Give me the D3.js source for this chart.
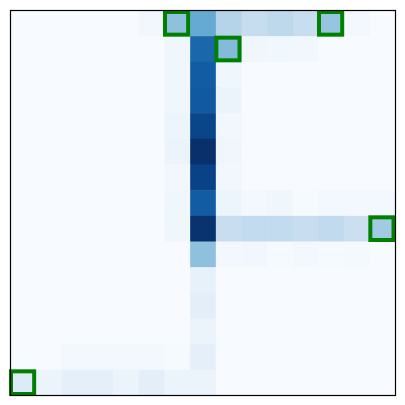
<!DOCTYPE html>
<html><head><meta charset="utf-8">
<script src="https://cdn.jsdelivr.net/npm/d3@7"></script>
<style>body{margin:0;background:#fff}</style>
</head><body>
<svg id="c" width="405" height="405"></svg>
<script>
const rows = d3.range(15);
const cols = d3.range(15);
// intensity values (0..1) per row, 15 columns each
const values = [
  [0,0,0,0,0,0.03,0.41,0.52,0.30,0.24,0.27,0.23,0.39,0.02,0],
  [0,0,0,0,0,0,0.04,0.79,0.44,0.04,0.035,0.03,0,0,0],
  [0,0,0,0,0,0,0.04,0.83,0.04,0,0,0,0,0,0],
  [0,0,0,0,0,0,0.04,0.84,0.06,0,0,0,0,0,0],
  [0,0,0,0,0,0,0.05,0.92,0.03,0,0,0,0,0,0],
  [0,0,0,0,0,0,0.06,1.00,0.04,0,0,0,0,0,0],
  [0,0,0,0,0,0,0.03,0.93,0.03,0,0,0,0,0,0],
  [0,0,0,0,0,0,0.04,0.83,0.05,0.02,0.04,0.01,0.02,0.02,0.02],
  [0,0,0,0,0,0,0.04,0.99,0.23,0.25,0.25,0.23,0.26,0.22,0.36],
  [0,0,0,0,0,0,0,0.41,0.02,0.03,0.01,0.02,0.01,0.015,0],
  [0,0,0,0,0,0,0,0.08,0,0,0,0,0,0,0],
  [0,0,0,0,0,0,0,0.10,0,0,0,0,0,0,0],
  [0,0,0,0,0,0,0,0.06,0,0,0,0,0,0,0],
  [0,0,0.025,0.025,0.025,0.025,0.01,0.09,0,0,0,0,0,0,0],
  [0.13,0.06,0.09,0.09,0.06,0.10,0.06,0.06,0,0,0,0,0,0,0]
];
// highlighted cells [row, col]
const highlights = [[0,6],[0,12],[1,8],[8,14],[14,0]];

const svg = d3.select("#c");
const x = d3.scaleBand().domain(cols).range([10.5, 395.5]);
const y = d3.scaleBand().domain(rows).range([10.5, 395.5]);
const color = d3.scaleSequential(d3.interpolateBlues).domain([0,1]);

const cells = [];
values.forEach((r,i)=>r.forEach((v,j)=>cells.push({i,j,v})));
svg.append("g").selectAll("rect").data(cells).join("rect")
  .attr("x", d=>x(d.j)).attr("y", d=>y(d.i))
  .attr("width", x.bandwidth()+0.5).attr("height", y.bandwidth()+0.5)
  .attr("fill", d=>color(d.v));

svg.append("g").selectAll("rect").data(highlights).join("rect")
  .attr("x", d=>x(d[1])+0.5).attr("y", d=>y(d[0])+1.5)
  .attr("width", x.bandwidth()-2.5).attr("height", y.bandwidth()-3)
  .attr("fill","none").attr("stroke","#008000").attr("stroke-width",4);

svg.append("rect").attr("x",10.5).attr("y",10.5).attr("width",385).attr("height",385)
  .attr("fill","none").attr("stroke","#000").attr("stroke-width",1.2);
</script>
</body></html>
